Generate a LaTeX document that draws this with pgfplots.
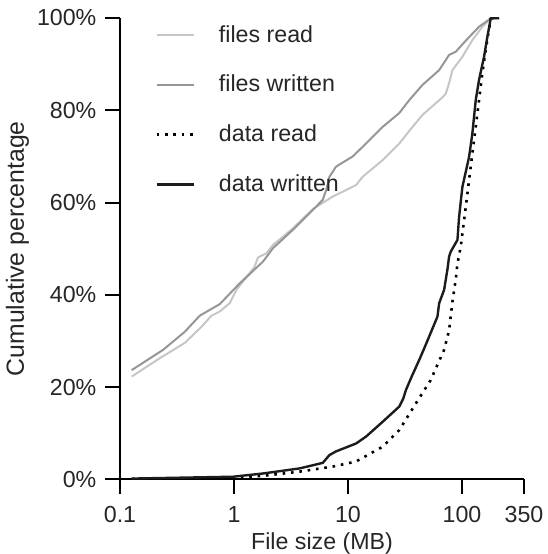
\documentclass[border=0pt]{standalone}
\usepackage{fontspec}
\setmainfont{Liberation Sans}
\usepackage{pgfplots}
\pgfplotsset{compat=1.18}
\definecolor{fread}{RGB}{198,198,198}
\definecolor{fwrite}{RGB}{150,150,150}
\definecolor{dwrite}{RGB}{28,28,28}
\begin{document}
\begin{tikzpicture}
\begin{axis}[
  name=ax,
  xmode=log, xmin=0.1, xmax=350, ymin=0, ymax=100,
  scale only axis, width=202pt, height=230.75pt,
  axis lines*=left,
  axis line style={line width=1pt, -},
  xtick={0.1,1,10,100,350}, xticklabels={0.1,1,10,100,350},
  minor xtick={},
  ytick={0,20,40,60,80,100}, yticklabels={0\%,20\%,40\%,60\%,80\%,100\%},
  tick align=outside, major tick length=7.5pt,
  tick style={line width=1pt, black},
  /pgf/number format/assume math mode=true,
  font=\fontsize{11.6}{13}\selectfont,
  tick label style={font=\fontsize{11.6}{13}\selectfont, text=black!85},
  xticklabel style={yshift=-2.5pt},
  yticklabel style={xshift=-0.8pt},
  xlabel={File size (MB)}, ylabel={Cumulative percentage},
  every axis x label/.style={at={(axis description cs:0.5,0)}, anchor=base, yshift=-35pt, font=\fontsize{11.6}{13}\selectfont, text=black!85},
  every axis y label/.style={at={(axis description cs:0,0.5)}, xshift=-48pt, rotate=90, anchor=base, font=\fontsize{12.4}{14}\selectfont, text=black!85},
  legend cell align=left,
  legend style={draw=none, fill=none, inner sep=0pt, at={(rel axis cs:0.0866,1)}, anchor=north west, yshift=-3.5pt,
    nodes={inner sep=0pt}, row sep=14.95pt, font=\fontsize{11.6}{13}\selectfont, text=black!85,
    /tikz/every odd column/.append style={column sep=12pt}},
  legend image code/.code={\draw[#1] (0pt,0pt) -- (18.5pt,0pt); \path (0pt,2.6pt);},
  line join=round,
]
\addplot[fread, line width=1pt] coordinates {
(0.1266,22.3) (0.224,26.3) (0.370,29.6) (0.519,33.1) (0.634,35.5) (0.750,36.4)
(0.917,38.2) (1.050,41.1) (1.517,46.1) (1.622,48.1) (1.920,49.0) (2.194,50.8)
(3.283,54.4) (4.911,58.6) (7.347,61.3) (11.77,63.8) (13.45,65.6) (20.12,69.2)
(28.17,72.8) (36.82,76.4) (45.04,79.0) (67.4,82.8) (72.14,83.6) (77.12,85.9)
(82.4,88.7) (100.8,91.6) (123.3,95.2) (150.8,98.1) (178.6,99.9) (211.1,100)
};
\addlegendentry{files read}
\addplot[fwrite, line width=1pt] coordinates {
(0.1266,23.7) (0.239,28.1) (0.370,32.0) (0.501,35.5) (0.750,38.0) (1.122,42.5)
(1.794,47.2) (2.194,50.1) (3.283,54.1) (4.911,58.4) (6.007,60.6) (6.433,62.7)
(6.877,65.6) (7.869,67.8) (11.0,70.0) (14.40,72.8) (20.12,76.4) (28.17,79.4)
(34.45,82.2) (45.04,85.5) (63.05,88.7) (77.12,92.0) (88.3,92.7) (108.0,95.1)
(141.1,98.1) (178.6,99.9) (211.1,100)
};
\addlegendentry{files written}
\addplot[black, line width=1.3pt, dash pattern=on 1.3pt off 2.9pt] coordinates {
(0.1266,0.1) (0.98,0.3) (1.794,0.8) (3.756,1.7) (7.347,2.8) (11.77,3.9)
(20.12,7.1) (28.17,10.7) (39.43,16.5) (53.0,21.5) (69.71,28.1) (77.12,32.4)
(82.4,38.5) (88.3,43.5) (91.2,46.8) (97.6,50.5) (100.8,53.3) (108.0,59.1)
(115.4,64.9) (123.3,70.7) (132.0,76.4) (141.1,82.2) (150.8,88.0) (161.6,93.1)
(178.6,99.9) (211.1,100)
};
\addlegendentry{data read}
\addplot[dwrite, line width=1.2pt] coordinates {
(0.1266,0.2) (0.98,0.6) (1.794,1.3) (3.756,2.4) (6.007,3.6) (6.877,5.3)
(7.869,6.1) (11.77,7.8) (14.40,9.3) (20.12,12.5) (28.17,15.8) (30.5,17.5) (32.24,19.4)
(36.5,22.5) (42.14,25.9) (46.61,28.4) (53.0,31.7) (60.93,35.3) (63.05,38.2) (69.7,41.1)
(74.5,45.5) (77.1,48.3) (79.8,49.4) (91.2,51.9) (94.3,56.9) (100.8,63.4)
(115.4,69.9) (123.3,75.0) (132.0,82.2) (141.1,86.6) (156.1,91.6) (166.9,95.9)
(178.6,99.9) (211.1,100)
};
\addlegendentry{data written}
\end{axis}
\pgfresetboundingbox
\path ([xshift=-60pt,yshift=-37.25pt]ax.south west) rectangle ([xshift=11.5pt,yshift=9pt]ax.north east);
\end{tikzpicture}
\end{document}
